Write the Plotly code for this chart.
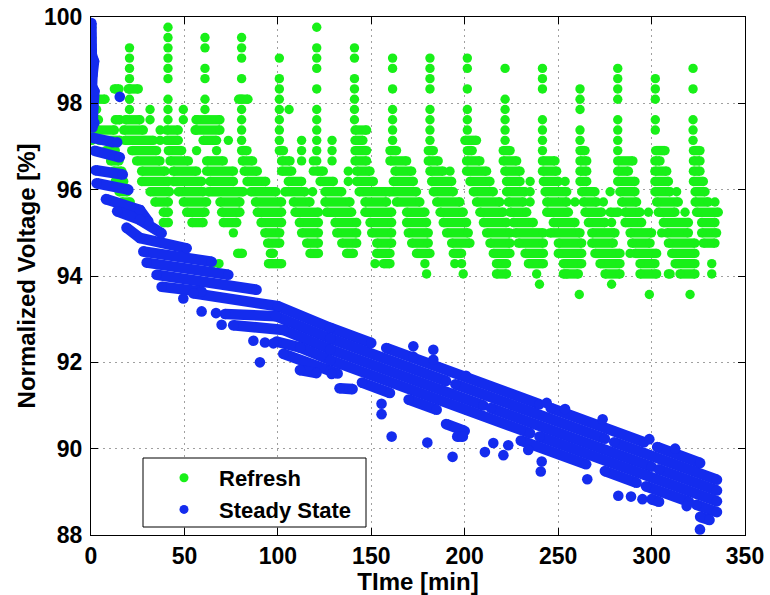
import plotly.graph_objects as go

# Cell voltage logger: ADC counts are normalised to the full-scale count
FULL_SCALE = 420.0  # counts at 100 %

# ---------------------------------------------------------------------------
# Refresh mode: every ~20 min the cell is refreshed and the voltage recovers.
# Times [min] of each refresh and the codes logged during the quick recovery.
refresh_times = [0.4, 20.6, 41.2, 61.0, 80.6, 100.8, 120.8, 141.0, 161.4,
                 181.4, 201.4, 221.6, 241.6, 261.7, 281.9, 302.0, 322.2]
refresh_codes = [
    [419, 418, 417, 416, 415, 414, 413, 412, 411, 410, 409, 408],
    [417, 416, 415, 414, 413, 412, 411],
    [419, 418, 417, 416, 415, 414, 412, 411, 410],
    [418, 417, 415, 414, 412, 411],
    [418, 417, 416, 414, 412, 411, 410, 409, 408],
    [416, 414, 413, 412, 411, 410, 409, 408],
    [419, 417, 416, 415, 413, 411, 410, 409, 408, 407, 406],
    [417, 416, 414, 413, 412, 411, 410],
    [416, 415, 413, 411, 410, 409, 408],
    [416, 415, 414, 413, 411, 410, 409, 408],
    [416, 415, 413, 411, 410, 409],
    [415, 412, 411, 410, 409, 408],
    [415, 414, 413, 410, 409, 408, 407],
    [413, 412, 411, 409, 408],
    [415, 414, 413, 412, 410, 409, 408, 407],
    [414, 413, 412, 410, 409],
    [415, 413, 410, 409, 408],
]

# Settling after each refresh: (code, first sample [min], last sample [min])
refresh_runs = [
    # 0 - 20 min
    (412, 1.0, 7.5), (411, 1.5, 3.0), (410, 1.0, 4.0), (410, 13.0, 15.5),
    (413, 12.5, 15.0), (409, 3.5, 12.5), (408, 4.5, 15.5), (407, 8.0, 13.0),
    (406, 10.5, 15.0), (405, 12.0, 16.5), (404, 13.0, 17.5), (403, 15.0, 19.5),
    (402, 16.5, 21.0), (401, 18.0, 21.5),
    # 20 - 40 min
    (413, 20.0, 25.3), (410, 18.5, 26.2), (409, 17.5, 28.0), (408, 18.2, 33.4),
    (407, 21.8, 35.1), (406, 24.4, 36.9), (405, 27.1, 39.6), (404, 27.1, 41.4),
    (403, 31.6, 42.0), (402, 34.2, 41.4), (401, 38.7, 41.4), (400, 38.7, 41.4),
    # 40 - 60 min
    (409, 40.5, 46.7), (408, 40.5, 46.7), (407, 41.4, 48.5), (406, 42.3, 52.1),
    (405, 44.0, 56.5), (404, 44.0, 59.2), (403, 46.7, 60.1), (402, 49.4, 61.9),
    (401, 51.2, 61.0), (400, 54.0, 60.0),
    # 60 - 80 min
    (410, 56.5, 69.0), (409, 55.7, 69.0), (408, 60.0, 67.2), (406, 61.9, 70.8),
    (405, 61.9, 76.2), (404, 63.7, 76.2), (403, 62.8, 81.5), (402, 69.0, 79.7),
    (401, 69.9, 79.7), (400, 70.8, 78.0), (397, 78.5, 81.0),
    # 80 - 100 min
    (412, 79.0, 84.0), (407, 80.6, 83.5), (406, 81.0, 86.5), (405, 82.0, 89.0),
    (404, 83.5, 93.5), (403, 85.5, 99.0), (402, 88.0, 102.0), (401, 89.0, 102.0),
    (400, 91.0, 102.0), (399, 93.0, 101.0), (398, 94.5, 101.0), (397, 96.0, 97.5),
    (396, 95.0, 102.0),
    # 100 - 120 min
    (407, 100.8, 103.0), (406, 102.0, 106.5), (405, 102.0, 107.4),
    (404, 105.6, 112.7), (403, 103.8, 114.5), (402, 108.3, 117.2),
    (401, 109.2, 121.7), (400, 111.5, 121.7), (399, 112.7, 121.7),
    (398, 115.4, 121.7), (397, 117.2, 121.7),
    # 120 - 140 min
    (405, 120.8, 124.3), (404, 122.6, 129.7), (403, 125.2, 134.2),
    (402, 125.2, 138.6), (401, 126.1, 139.5), (400, 130.6, 142.2),
    (399, 131.5, 142.2), (398, 134.2, 142.2), (397, 136.8, 140.4),
    # 140 - 160 min
    (409, 141.3, 147.5), (408, 141.3, 145.5), (407, 141.3, 147.5),
    (406, 141.3, 147.5), (405, 142.2, 149.3), (404, 142.2, 151.1),
    (403, 143.5, 158.0), (402, 146.6, 158.2), (401, 146.6, 160.9),
    (400, 149.3, 160.9), (399, 150.2, 160.9), (398, 152.9, 160.9),
    (397, 152.9, 160.0), (396, 156.5, 160.0),
    # 160 - 180 min
    (407, 160.0, 163.5), (406, 160.0, 168.9), (405, 162.7, 171.6),
    (404, 161.8, 172.5), (403, 159.5, 174.2), (402, 163.5, 176.0),
    (401, 168.9, 178.7), (400, 168.9, 179.6), (399, 169.8, 180.5),
    (398, 171.6, 180.5), (397, 174.2, 181.4),
    # 180 - 200 min
    (407, 180.5, 183.2), (406, 180.5, 185.8), (405, 181.4, 188.5),
    (404, 182.3, 193.0), (403, 183.2, 193.9), (402, 185.0, 197.4),
    (401, 186.8, 199.2), (400, 188.5, 201.0), (399, 190.3, 201.9),
    (398, 193.0, 202.8), (397, 193.9, 198.3),
    # 200 - 220 min
    (408, 200.1, 206.3), (407, 201.4, 204.0), (406, 201.0, 208.1),
    (405, 201.0, 211.7), (404, 202.8, 213.5), (403, 204.6, 215.3),
    (402, 206.3, 218.8), (401, 208.1, 220.6), (400, 210.0, 222.4),
    (399, 211.7, 224.2), (398, 213.5, 224.2), (397, 215.3, 224.2),
    (396, 217.0, 222.4), (395, 217.0, 222.4),
    # 220 - 240 min
    (407, 220.6, 224.3), (406, 220.6, 227.8), (405, 221.5, 229.6),
    (404, 222.4, 229.6), (403, 222.4, 232.3), (402, 223.3, 231.4),
    (401, 224.3, 233.2), (400, 226.0, 236.7), (399, 227.0, 242.1),
    (398, 228.7, 242.1), (397, 232.3, 242.1), (396, 234.1, 242.1),
    # 240 - 260 min
    (406, 241.6, 248.3), (405, 241.6, 249.2), (404, 242.1, 250.1),
    (403, 243.0, 254.6), (402, 243.9, 254.6), (401, 243.9, 255.5),
    (400, 247.4, 259.0), (399, 245.6, 261.7), (398, 250.1, 262.6),
    (397, 250.1, 262.6), (396, 252.8, 262.6), (395, 252.8, 260.8),
    # 260 - 280 min
    (407, 261.7, 264.4), (406, 261.7, 265.3), (405, 261.7, 265.3),
    (404, 261.7, 265.3), (403, 262.6, 269.7), (402, 263.5, 270.6),
    (401, 264.4, 273.3), (401, 277.8, 282.2), (400, 266.2, 275.1),
    (399, 268.0, 280.4), (398, 268.0, 279.5), (397, 269.7, 283.1),
    (396, 272.4, 283.1), (395, 275.1, 283.1),
    # 280 - 300 min
    (406, 281.9, 290.0), (405, 281.9, 287.6), (404, 281.9, 291.1),
    (403, 283.0, 291.1), (402, 284.0, 292.0), (401, 285.8, 293.8),
    (400, 285.8, 294.7), (399, 288.5, 300.0), (398, 289.4, 299.2),
    (397, 291.1, 302.7), (396, 293.8, 301.8), (395, 293.8, 302.7),
    # 300 - 320 min
    (407, 302.2, 307.2), (406, 301.8, 304.5), (405, 301.8, 308.1),
    (404, 301.8, 309.0), (403, 301.8, 309.9), (402, 302.7, 314.3),
    (401, 303.6, 312.5), (400, 306.3, 319.7), (399, 308.1, 319.7),
    (398, 309.0, 323.2), (397, 310.8, 323.2), (396, 312.6, 323.2),
    (395, 315.2, 323.2),
    # 320 - 335 min
    (407, 322.4, 325.9), (406, 322.4, 325.9), (405, 322.4, 325.9),
    (404, 322.4, 327.7), (403, 323.3, 328.6), (402, 323.3, 330.4),
    (401, 324.1, 335.7), (400, 326.8, 333.9), (399, 326.8, 334.8),
    (398, 327.7, 333.9),
]

# Isolated refresh-mode samples: (code, time [min])
refresh_points = [
    (411, 31.6), (410, 31.6), (409, 37.0), (408, 37.0),
    (411, 49.4), (410, 49.4), (410, 56.2), (409, 56.2), (407, 56.5),
    (407, 67.2), (408, 73.5), (396, 65.0), (396, 68.5), (399, 76.2),
    (411, 106.0), (408, 112.7), (407, 112.7), (406, 112.7), (406, 119.0),
    (405, 119.0), (403, 118.6),
    (408, 129.0), (407, 129.0), (406, 129.0), (405, 137.7), (404, 137.7),
    (396, 152.0), (396, 178.7), (395, 179.6),
    (405, 192.1), (396, 194.7), (396, 198.3), (395, 199.2),
    (395, 238.5), (394, 240.0), (404, 235.0), (403, 235.0), (402, 235.0),
    (404, 253.7), (402, 259.0), (395, 254.6), (393, 261.3),
    (403, 277.8), (402, 274.2), (400, 278.6), (394, 278.6),
    (401, 298.3), (397, 288.5), (395, 309.0), (393, 298.8),
    (403, 313.4), (401, 317.9), (399, 305.4), (395, 309.9), (393, 320.6),
    (402, 333.9), (396, 332.2), (395, 332.2),
]

# ---------------------------------------------------------------------------
# Steady state: noisy discharge traces, each a polyline of (time, voltage %)
steady_bands = [
    # first minutes
    [(0.2, 99.86), (0.4, 99.12)],
    [(0.4, 99.12), (1.6, 98.97), (0.8, 98.66), (0.5, 98.39)],
    [(0.5, 98.39), (1.8, 98.28), (1.2, 97.9), (1.8, 97.55), (0.8, 97.44)],
    [(1.0, 97.2), (11.8, 97.1)],
    [(2.0, 96.9), (15.4, 96.75)],
    [(2.5, 96.45), (17.0, 96.35)],
    [(3.0, 96.15), (20.0, 96.0)],
    [(8.0, 95.78), (26.2, 95.53), (30.7, 95.26)],
    [(14.0, 95.5), (26.2, 95.3), (37.8, 94.99)],
    [(19.0, 95.12), (26.2, 94.88), (51.2, 94.64)],
    [(28.0, 94.57), (64.6, 94.33)],
    [(29.8, 94.31), (73.5, 94.03)],
    [(35.1, 94.03), (88.6, 93.68)],
    [(37.8, 93.75), (59.2, 93.64)],
    # long discharge lanes
    [(54.7, 93.60), (100.0, 93.30), (128.0, 92.80), (150.0, 92.45)],
    [(158.0, 92.33), (240.0, 91.03)],
    [(246.0, 90.94), (296.0, 90.15)],
    [(303.0, 90.04), (326.0, 89.67)],
    [(71.7, 93.12), (99.0, 93.07), (128.0, 92.55), (190.0, 91.57)],
    [(195.0, 91.49), (275.0, 90.23)],
    [(280.0, 90.15), (335.0, 89.28)],
    [(76.1, 92.86), (103.0, 92.75), (128.0, 92.30), (210.0, 91.00)],
    [(214.0, 90.94), (300.0, 89.58)],
    [(304.0, 89.52), (335.0, 89.03)],
    [(99.3, 92.48), (112.0, 92.34), (128.0, 92.05), (235.0, 90.36)],
    [(240.0, 90.28), (335.0, 88.78)],
    [(102.9, 92.20), (128.0, 91.80), (132.0, 91.74)],
    [(145.0, 91.53), (160.0, 91.29)],
    [(170.0, 91.14), (185.0, 90.90)],
    [(230.0, 90.19), (265.0, 89.64)],
    [(275.0, 89.48), (292.0, 89.21)],
    [(297.0, 89.13), (320.0, 88.77)],
    [(324.0, 88.70), (335.0, 88.53)],
    [(111.8, 91.82), (120.7, 91.75)],
    [(133.0, 91.40), (140.0, 91.38)],
    [(190.0, 90.57), (200.0, 90.41)],
    [(196.0, 90.28), (199.0, 90.28)],
    [(300.0, 88.83), (304.0, 88.77)],
    [(326.0, 88.42), (331.0, 88.35)],
]

# Isolated steady-state samples: (time [min], voltage %)
steady_points = [
    (15.4, 98.15), (14.0, 97.10),
    (49.4, 93.48), (59.2, 93.18), (66.9, 93.14), (69.9, 92.87),
    (86.9, 92.50), (93.1, 92.46), (97.6, 92.44), (90.4, 92.00), (128.8, 91.73),
    (172.5, 92.37), (172.5, 92.13), (183.2, 92.29), (183.2, 92.06),
    (200.7, 91.69), (155.5, 91.04), (155.5, 90.80), (160.9, 90.28),
    (180.0, 90.14), (193.5, 89.81), (210.8, 89.92), (215.3, 90.13),
    (220.7, 89.85), (223.3, 90.08), (234.0, 89.97),
    (243.9, 91.06), (253.7, 90.92), (273.8, 90.68), (298.8, 90.22),
    (312.6, 90.00), (241.2, 89.70), (240.7, 89.47), (265.6, 89.29),
    (282.2, 88.91), (289.0, 88.89), (295.1, 88.83), (318.8, 88.67),
    (325.9, 88.13),
]

x_ticks = [0, 50, 100, 150, 200, 250, 300, 350]
y_ticks = [88, 90, 92, 94, 96, 98, 100]

GREEN = "rgb(24,240,24)"
BLUE = "rgb(20,44,238)"
GREEN_DOT = 9.4   # marker diameter [px]; runs use the same stroke width
BLUE_DOT = 10.6


def pct(code):
    return 100.0 * code / FULL_SCALE


# Build the refresh series: runs become capsules (stroke + round end markers)
gx, gy = [], []
for t, codes in zip(refresh_times, refresh_codes):
    for c in codes:
        gx += [t, None]
        gy += [pct(c), None]
for c, t0, t1 in refresh_runs:
    gx += [t0, t1, None]
    gy += [pct(c), pct(c), None]
for c, t in refresh_points:
    gx += [t, None]
    gy += [pct(c), None]

bx, by = [], []
for band in steady_bands:
    for t, v in band:
        bx.append(t)
        by.append(v)
    bx.append(None)
    by.append(None)
for t, v in steady_points:
    bx += [t, None]
    by += [v, None]

fig = go.Figure()
fig.add_trace(go.Scatter(
    x=gx, y=gy, mode="lines+markers", connectgaps=False,
    line=dict(color=GREEN, width=GREEN_DOT),
    marker=dict(color=GREEN, size=GREEN_DOT, line=dict(width=0)),
    showlegend=False, hoverinfo="skip"))
fig.add_trace(go.Scatter(
    x=bx, y=by, mode="lines+markers", connectgaps=False,
    line=dict(color=BLUE, width=BLUE_DOT),
    marker=dict(color=BLUE, size=BLUE_DOT, line=dict(width=0)),
    showlegend=False, hoverinfo="skip"))

# Legend entries (marker only)
fig.add_trace(go.Scatter(x=[None], y=[None], mode="markers", name="Refresh",
                         legendgroup="r",
                         marker=dict(color=GREEN, size=9, line=dict(width=0))))
fig.add_trace(go.Scatter(x=[None], y=[None], mode="markers", name="Steady State",
                         legendgroup="s",
                         marker=dict(color=BLUE, size=9, line=dict(width=0))))

L, R, T, B = 91, 745, 17, 535
W, H = 770, 595


def px(xp):
    return (xp - L) / (R - L)


def py(yp):
    return 1 - (yp - T) / (B - T)


axis_common = dict(
    showline=True, linecolor="black", linewidth=1, mirror="ticks",
    ticks="inside", ticklen=7, tickwidth=1, tickcolor="black",
    showgrid=True, gridcolor="rgb(160,160,160)", griddash="2px,4px", gridwidth=1,
    zeroline=False, tickfont=dict(size=23, color="black", weight="bold"),
)

fig.update_layout(
    width=W, height=H,
    margin=dict(l=L, r=W - R, t=T, b=H - B, autoexpand=False),
    plot_bgcolor="white", paper_bgcolor="white",
    font=dict(family="Liberation Sans, Arial, sans-serif", size=22,
              color="black", weight="bold"),
    xaxis=dict(range=[0, 350], tickvals=x_ticks, ticklabelstandoff=0,
               title=dict(text="TIme [min]", standoff=12,
                          font=dict(size=24, weight="bold")),
               **axis_common),
    yaxis=dict(range=[88, 100], tickvals=y_ticks, ticklabelstandoff=3,
               title=dict(text="Normalized Voltage [%]", standoff=1,
                          font=dict(size=24, weight="bold")),
               **axis_common),
    legend=dict(x=px(149), y=py(457), xanchor="left", yanchor="top",
                bgcolor="rgba(0,0,0,0)", borderwidth=0, itemwidth=60,
                tracegroupgap=0, traceorder="grouped",
                font=dict(size=22, color="black", weight="bold")),
    shapes=[dict(type="rect", xref="paper", yref="paper",
                 x0=px(143), x1=px(366), y0=py(527), y1=py(458),
                 line=dict(color="black", width=1), fillcolor="white",
                 layer="above")],
)

fig.write_html("out.html")
